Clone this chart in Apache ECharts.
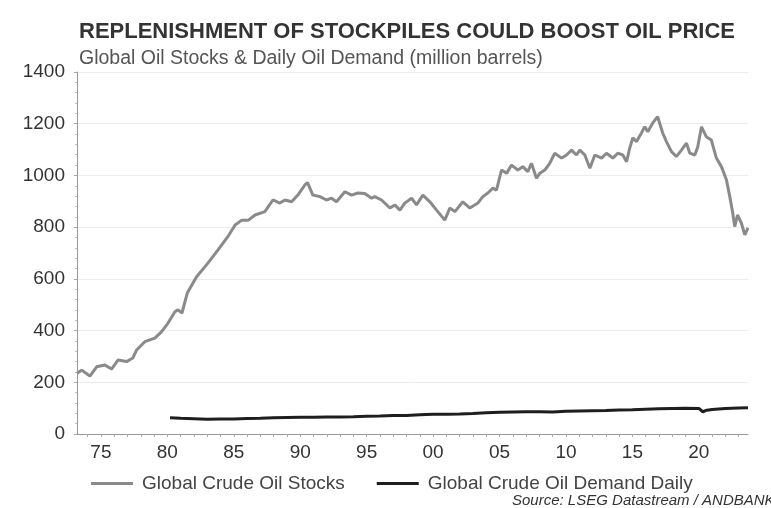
<!DOCTYPE html>
<html lang="en">
<head>
  <meta charset="utf-8">
  <title>Replenishment of stockpiles could boost oil price</title>
  <script type="text/javascript" src="https://cdn.jsdelivr.net/npm/echarts@6/dist/echarts.min.js"></script>
  <style type="text/css">
    * {
      margin: 0;
      padding: 0;
    }
    html, body, #chart {
      width: 100%;
      height: 100%;
      overflow: hidden;
      background: #fff;
    }
  </style>
</head>
<body>
  <div id="chart"></div>
  <script type="text/javascript">
    // decimal years
    var stockYears = [
      1973.2, 1973.55, 1974.17, 1974.68, 1975.3, 1975.8, 1976.28, 1976.93, 1977.4, 1977.69,
      1978.3, 1979.06, 1979.57, 1980.04, 1980.57, 1980.8, 1981.1, 1981.5, 1982.2, 1983.05,
      1983.8, 1984.55, 1985.1, 1985.6, 1986.1, 1986.6, 1987.34, 1987.94, 1988.47, 1988.85,
      1989.35, 1989.82, 1990.35, 1990.55, 1990.95, 1991.48, 1991.98, 1992.36, 1992.73, 1993.36,
      1993.86, 1994.34, 1994.86, 1995.37, 1995.6, 1996.12, 1996.75, 1997.12, 1997.5, 1997.87,
      1998.38, 1998.75, 1999.23, 1999.76, 2000.26, 2000.88, 2001.26, 2001.64, 2002.24, 2002.77,
      2003.37, 2003.74, 2004.12, 2004.5, 2004.77, 2005.15, 2005.53, 2005.9, 2006.38, 2006.75,
      2007.13, 2007.4, 2007.78, 2008.03, 2008.41, 2008.78, 2009.16, 2009.67, 2010.04, 2010.42,
      2010.79, 2011.04, 2011.42, 2011.8, 2012.17, 2012.68, 2013.05, 2013.53, 2013.9, 2014.28,
      2014.56, 2014.8, 2015.03, 2015.31, 2015.68, 2015.93, 2016.16, 2016.53, 2016.9, 2017.28,
      2017.56, 2017.94, 2018.31, 2018.69, 2019.07, 2019.32, 2019.7, 2019.92, 2020.2, 2020.56,
      2020.94, 2021.32, 2021.7, 2022.08, 2022.33, 2022.55, 2022.7, 2022.91, 2023.2, 2023.46,
      2023.7
    ];
    var stockValues = [
      235, 247, 224, 260, 267, 251, 286, 280, 294, 325,
      357, 371, 396, 428, 473, 480, 468, 545, 608, 661,
      711, 763, 808, 827, 827, 847, 860, 905, 893, 905,
      898, 924, 963, 972, 924, 918, 905, 912, 898, 937,
      924, 932, 930, 912, 918, 905, 874, 886, 866, 893,
      912, 886, 924, 898, 866, 827, 874, 860, 898, 874,
      893, 918, 932, 951, 943, 1021, 1008, 1040, 1021, 1034,
      1015, 1047, 989, 1008, 1021, 1047, 1086, 1067, 1079, 1098,
      1079, 1098, 1079, 1028, 1079, 1067, 1086, 1067, 1086, 1079,
      1053, 1106, 1145, 1131, 1164, 1188, 1169, 1203, 1227, 1164,
      1131, 1092, 1073, 1098, 1125, 1086, 1079, 1111, 1188, 1150,
      1137, 1067, 1034, 982, 918, 855, 802, 847, 816, 770,
      797
    ];
    var demandYears = [
      1980.2, 1981, 1982, 1983, 1984, 1985, 1986, 1987, 1988, 1989,
      1990, 1991, 1992, 1993, 1994, 1995, 1996, 1997, 1998, 1999,
      2000, 2001, 2002, 2003, 2004, 2005, 2006, 2007, 2008, 2009,
      2010, 2011, 2012, 2013, 2014, 2015, 2016, 2017, 2018, 2019,
      2020, 2020.3, 2020.6, 2021, 2021.5, 2022, 2022.5, 2023, 2023.7
    ];
    var demandValues = [
      63, 61, 59, 57, 58, 58, 60, 61, 63, 64,
      65, 65, 66, 66, 67, 69, 70, 72, 72, 74,
      76, 76, 77, 79, 82, 84, 85, 86, 86, 85,
      88, 89, 90, 91, 93, 94, 96, 98, 99, 100,
      99, 86, 92, 95, 97, 99, 100, 101, 102
    ];
    var xLabelYears = [1975, 1980, 1985, 1990, 1995, 2000, 2005, 2010, 2015, 2020];
    var xTickYears = [];
    for (var y = 1974; y <= 2023; y++) xTickYears.push(y);

    function zip(xs, ys) {
      return xs.map(function (x, i) { return [x, ys[i]]; });
    }

    var font = 'Liberation Sans, Arial, sans-serif';
    var option = {
      animation: false,
      backgroundColor: '#fff',
      title: {
        text: 'REPLENISHMENT OF STOCKPILES COULD BOOST OIL PRICE',
        subtext: 'Global Oil Stocks & Daily Oil Demand (million barrels)',
        left: 74,
        top: 16,
        itemGap: 6,
        textStyle: { fontFamily: font, fontSize: 22, fontWeight: 'bold', color: '#333' },
        subtextStyle: { fontFamily: font, fontSize: 19.5, color: '#555' }
      },
      legend: {
        left: 86,
        top: 469,
        itemWidth: 42,
        itemHeight: 3,
        itemGap: 32,
        icon: 'rect',
        textStyle: { fontFamily: font, fontSize: 19, color: '#444', padding: [0, 0, 0, 4] },
        data: ['Global Crude Oil Stocks', 'Global Crude Oil Demand Daily']
      },
      graphic: [{
        type: 'text',
        left: 512,
        top: 493,
        style: {
          text: 'Source: LSEG Datastream / ANDBANK',
          font: 'italic 15px ' + font,
          fill: '#333'
        }
      }],
      grid: { left: 77, right: 23, top: 72, bottom: 74 },
      xAxis: {
        type: 'value',
        min: 1973.2,
        max: 2023.7,
        splitLine: { show: false },
        axisLine: { lineStyle: { color: '#999', width: 1 } },
        axisTick: { show: true, customValues: xTickYears, length: 3, lineStyle: { color: '#aaa' } },
        axisLabel: {
          customValues: xLabelYears,
          formatter: function (v) { var s = String(Math.round(v) % 100); return s.length < 2 ? '0' + s : s; },
          fontFamily: font, fontSize: 19, color: '#333', margin: 9
        }
      },
      yAxis: {
        type: 'value',
        min: 0,
        max: 1400,
        interval: 200,
        axisLine: { show: true, lineStyle: { color: '#999' } },
        axisTick: { show: true, length: 3, lineStyle: { color: '#aaa' } },
        minorTick: { show: true, splitNumber: 5, length: 2, lineStyle: { color: '#bbb' } },
        splitLine: { lineStyle: { color: '#ececec' } },
        axisLabel: {
          formatter: function (v) { return String(v); },
          fontFamily: font, fontSize: 19, color: '#333', margin: 12
        }
      },
      series: [
        {
          name: 'Global Crude Oil Stocks',
          type: 'line',
          showSymbol: false,
          data: zip(stockYears, stockValues),
          itemStyle: { color: '#8a8a8a' },
          lineStyle: { color: '#8a8a8a', width: 3 }
        },
        {
          name: 'Global Crude Oil Demand Daily',
          type: 'line',
          showSymbol: false,
          data: zip(demandYears, demandValues),
          itemStyle: { color: '#1e1e1e' },
          lineStyle: { color: '#1e1e1e', width: 3 }
        }
      ]
    };
    var chart = echarts.init(document.getElementById('chart'));
    chart.setOption(option);
  </script>
</body>
</html>
